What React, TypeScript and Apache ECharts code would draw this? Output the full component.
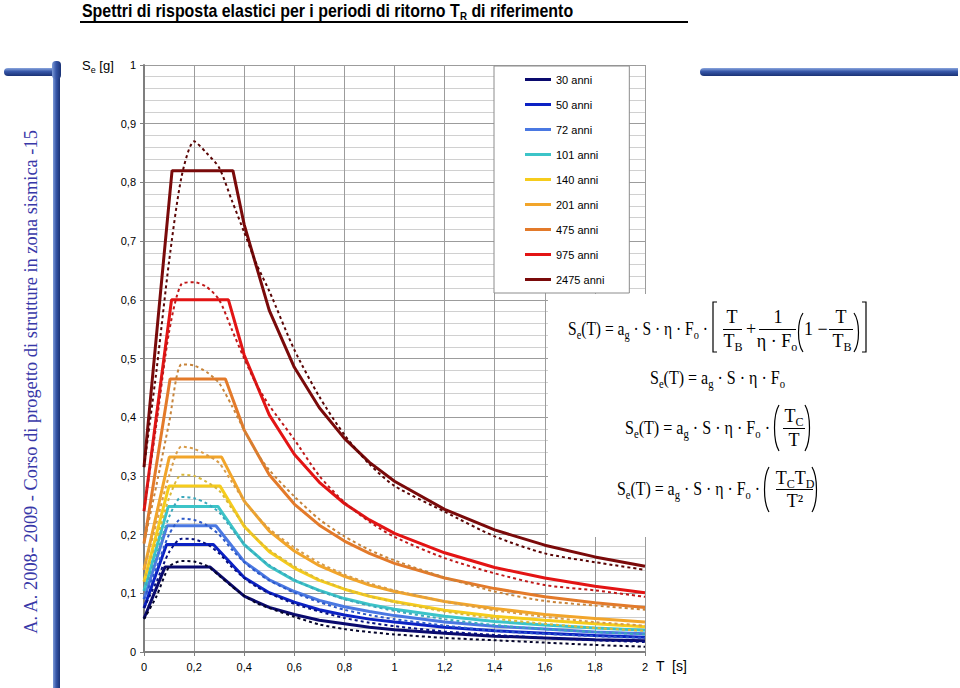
import React, { useEffect, useRef } from 'react';
import * as echarts from 'echarts';

// ---------------- data ----------------
const PERIODS = ['30 anni', '50 anni', '72 anni', '101 anni', '140 anni', '201 anni', '475 anni', '975 anni', '2475 anni'];
const COLORS = ['#0a0a6e', '#0c22c4', '#4a78e2', '#3cc4c8', '#f6cc1c', '#f2a52a', '#e37a2a', '#e31414', '#7a0a0a'];
const DOT_COLORS = ['#05052a', '#061080', '#2c58c8', '#3aa8bc', '#d9b83a', '#d89c48', '#c8843a', '#c01818', '#5a0505'];

const X_TICK_LABELS = ['0', '0,2', '0,4', '0,6', '0,8', '1', '1,2', '1,4', '1,6', '1,8', '2'];
const Y_TICK_LABELS = ['0', '0,1', '0,2', '0,3', '0,4', '0,5', '0,6', '0,7', '0,8', '0,9', '1'];

// simplified (solid) spectra
const S0 = [0.057, 0.075, 0.09, 0.104, 0.12, 0.14, 0.185, 0.24, 0.315];
const TB = [0.084, 0.09, 0.092, 0.097, 0.1, 0.101, 0.104, 0.11, 0.112];
const TC = [0.263, 0.277, 0.287, 0.295, 0.303, 0.31, 0.325, 0.337, 0.355];
const PLATEAU = [0.145, 0.183, 0.215, 0.248, 0.283, 0.332, 0.465, 0.6, 0.82];
const DECAY_T = [0.4, 0.5, 0.6, 0.7, 0.8, 0.9, 1.0, 1.2, 1.4, 1.6, 1.8, 2.0];
const DECAY_30 = [0.095, 0.076, 0.064, 0.054, 0.048, 0.042, 0.038, 0.032, 0.027, 0.024, 0.021, 0.019];
const DECAY_50 = [0.127, 0.101, 0.085, 0.072, 0.063, 0.056, 0.051, 0.042, 0.036, 0.032, 0.028, 0.025];
const DECAY_72 = [0.154, 0.123, 0.103, 0.088, 0.077, 0.069, 0.062, 0.051, 0.044, 0.039, 0.034, 0.031];
const DECAY_101 = [0.183, 0.146, 0.122, 0.105, 0.091, 0.081, 0.073, 0.061, 0.052, 0.046, 0.041, 0.037];
const DECAY_140 = [0.214, 0.171, 0.143, 0.122, 0.107, 0.095, 0.086, 0.071, 0.061, 0.054, 0.048, 0.043];
const DECAY_201 = [0.257, 0.206, 0.172, 0.147, 0.129, 0.114, 0.103, 0.086, 0.074, 0.064, 0.057, 0.051];
const DECAY_475 = [0.378, 0.302, 0.252, 0.216, 0.189, 0.168, 0.151, 0.126, 0.108, 0.094, 0.084, 0.076];
const DECAY_975 = [0.506, 0.404, 0.337, 0.289, 0.253, 0.225, 0.202, 0.169, 0.144, 0.126, 0.112, 0.101];
const DECAY_2475 = [0.728, 0.582, 0.485, 0.416, 0.364, 0.323, 0.291, 0.243, 0.208, 0.182, 0.162, 0.146];

// site spectra (dotted)
const DOT_T = [0, 0.05, 0.1, 0.15, 0.2, 0.25, 0.3, 0.35, 0.4, 0.45, 0.5, 0.6, 0.7, 0.8, 0.9, 1.0, 1.2, 1.4, 1.6, 1.8, 2.0];
const DOT_30 = [0.056, 0.095, 0.145, 0.155, 0.154, 0.147, 0.13, 0.112, 0.096, 0.083, 0.075, 0.06, 0.047, 0.039, 0.034, 0.03, 0.024, 0.02, 0.016, 0.012, 0.009];
const DOT_50 = [0.075, 0.12, 0.17, 0.193, 0.192, 0.184, 0.168, 0.145, 0.126, 0.111, 0.1, 0.082, 0.069, 0.058, 0.05, 0.044, 0.035, 0.029, 0.024, 0.02, 0.017];
const DOT_72 = [0.09, 0.143, 0.2, 0.227, 0.225, 0.216, 0.2, 0.175, 0.153, 0.136, 0.122, 0.101, 0.085, 0.072, 0.063, 0.056, 0.045, 0.036, 0.031, 0.027, 0.024];
const DOT_101 = [0.104, 0.165, 0.23, 0.264, 0.262, 0.253, 0.238, 0.21, 0.184, 0.164, 0.148, 0.123, 0.104, 0.09, 0.079, 0.07, 0.056, 0.046, 0.039, 0.034, 0.03];
const DOT_140 = [0.12, 0.19, 0.262, 0.302, 0.3, 0.29, 0.275, 0.245, 0.216, 0.193, 0.174, 0.146, 0.124, 0.108, 0.095, 0.085, 0.069, 0.057, 0.048, 0.041, 0.036];
const DOT_201 = [0.14, 0.22, 0.3, 0.35, 0.346, 0.336, 0.322, 0.29, 0.258, 0.232, 0.21, 0.178, 0.152, 0.132, 0.117, 0.105, 0.086, 0.071, 0.06, 0.051, 0.045];
const DOT_475 = [0.185, 0.285, 0.39, 0.49, 0.488, 0.477, 0.458, 0.42, 0.378, 0.34, 0.31, 0.265, 0.226, 0.197, 0.174, 0.156, 0.127, 0.103, 0.087, 0.079, 0.072];
const DOT_975 = [0.24, 0.39, 0.545, 0.627, 0.63, 0.622, 0.6, 0.55, 0.5, 0.455, 0.42, 0.362, 0.3, 0.255, 0.222, 0.196, 0.16, 0.134, 0.114, 0.105, 0.094];
const DOT_2475 = [0.315, 0.48, 0.665, 0.81, 0.87, 0.85, 0.825, 0.77, 0.715, 0.66, 0.615, 0.515, 0.435, 0.37, 0.32, 0.283, 0.239, 0.197, 0.168, 0.153, 0.14];

const DECAYS = [DECAY_30, DECAY_50, DECAY_72, DECAY_101, DECAY_140, DECAY_201, DECAY_475, DECAY_975, DECAY_2475];
const DOTS = [DOT_30, DOT_50, DOT_72, DOT_101, DOT_140, DOT_201, DOT_475, DOT_975, DOT_2475];

// ---------------- helpers ----------------
const SANS = '"Liberation Sans", Arial, sans-serif';
const SERIF = '"Liberation Serif", "Times New Roman", serif';
const F_N = 18;
const F_S = 12;

type Part = [string, string];

let ctx: CanvasRenderingContext2D | null = null;
function measure(items: Array<[string, string]>): number {
  if (!ctx) ctx = document.createElement('canvas').getContext('2d');
  let w = 0;
  for (const [t, font] of items) {
    ctx!.font = font;
    w += ctx!.measureText(t).width;
  }
  return w;
}

const richStr = (parts: Part[]) => parts.map(([t, k]) => `{${k}|${t}}`).join('');

const FRICH = {
  n: { fontSize: F_N, fontFamily: SERIF, lineHeight: 24, fill: '#000' },
  s: { fontSize: F_S, fontFamily: SERIF, lineHeight: 12, verticalAlign: 'bottom', fill: '#000' },
};

function fText(parts: Part[], x: number, y: number, align = 'left', targetW?: number) {
  const el: any = {
    type: 'text', x, y, z: 60, silent: true,
    style: {
      text: richStr(parts), rich: FRICH, fontSize: F_N, fontFamily: SERIF, fill: '#000',
      align, textAlign: align, verticalAlign: 'middle', textVerticalAlign: 'middle',
    },
  };
  if (targetW) {
    const w = measure(parts.map(([t, k]) => [t, `${k === 'n' ? F_N : F_S}px ${SERIF}`] as [string, string]));
    if (w > 0) el.scaleX = targetW / w;
  }
  return el;
}
function hline(x1: number, x2: number, y: number) {
  return { type: 'line', z: 60, silent: true, shape: { x1, y1: y, x2, y2: y }, style: { stroke: '#000', lineWidth: 1 } };
}
function paren(x: number, top: number, bottom: number, left: boolean) {
  const h = bottom - top;
  const outer = left ? x : x + 6;
  const inner = left ? x + 6 : x;
  return {
    type: 'bezierCurve', z: 60, silent: true,
    shape: { x1: inner, y1: top, cpx1: outer, cpy1: top + h * 0.22, cpx2: outer, cpy2: bottom - h * 0.22, x2: inner, y2: bottom },
    style: { stroke: '#000', lineWidth: 1.2, fill: null },
  };
}
function bracket(x: number, top: number, bottom: number, left: boolean) {
  const d = left ? 4 : -4;
  return {
    type: 'polyline', z: 60, silent: true,
    shape: { points: [[x + d, top], [x, top], [x, bottom], [x + d, bottom]] },
    style: { stroke: '#000', lineWidth: 1.2, fill: null },
  };
}

const MAIN: Part[] = [['S', 'n'], ['e', 's'], ['(T) = a', 'n'], ['g', 's'], [' · S · η · F', 'n'], ['o', 's']];
const MAIN_DOT: Part[] = [...MAIN, [' ·', 'n']];
const T_: Part[] = [['T', 'n']];
const TB_: Part[] = [['T', 'n'], ['B', 's']];

function buildGraphic() {
  const els: any[] = [];
  const blueV = { type: 'linear', x: 0, y: 0, x2: 1, y2: 0, colorStops: [{ offset: 0, color: '#7d9bd8' }, { offset: 0.45, color: '#3656a8' }, { offset: 1, color: '#1a3275' }] };
  const blueH = { type: 'linear', x: 0, y: 0, x2: 0, y2: 1, colorStops: [{ offset: 0, color: '#8aa6de' }, { offset: 0.45, color: '#3656a8' }, { offset: 1, color: '#1a3275' }] };
  els.push({ type: 'rect', z: 5, silent: true, shape: { x: 53, y: 64, width: 7, height: 624 }, style: { fill: blueV } });
  els.push({ type: 'rect', z: 5, silent: true, shape: { x: 4, y: 68, width: 54, height: 8, r: [4, 0, 0, 4] }, style: { fill: blueH } });
  els.push({ type: 'rect', z: 6, silent: true, shape: { x: 52, y: 61, width: 9, height: 18, r: 4 }, style: { fill: blueV } });
  els.push({ type: 'rect', z: 5, silent: true, shape: { x: 700, y: 68, width: 258, height: 8, r: [4, 0, 0, 4] }, style: { fill: blueH } });

  // vertical footer text
  const vt = 'A. A. 2008- 2009 - Corso di progetto di strutture in zona sismica -15';
  const vw = measure([[vt, `18px ${SERIF}`]]);
  const vSize = vw > 0 ? (18 * 505) / vw : 18;
  els.push({
    type: 'text', x: 31, y: 382, rotation: Math.PI / 2, z: 5, silent: true,
    style: { text: vt, fontSize: vSize, fontFamily: SERIF, fill: '#3838a8', align: 'center', textAlign: 'center', verticalAlign: 'middle', textVerticalAlign: 'middle' },
  });

  // title
  const tParts: Part[] = [['Spettri di risposta elastici per i periodi di ritorno T', 't'], ['R', 's'], [' di riferimento', 't']];
  const tw = measure(tParts.map(([t, k]) => [t, `bold ${k === 't' ? 18 : 11}px ${SANS}`] as [string, string]));
  els.push({
    type: 'text', x: 82, y: 11, z: 5, silent: true, scaleX: tw > 0 ? 491 / tw : 1,
    style: {
      text: richStr(tParts), fontSize: 18, fontWeight: 'bold', fontFamily: SANS, fill: '#000',
      rich: {
        t: { fontSize: 18, fontWeight: 'bold', fontFamily: SANS, lineHeight: 22, fill: '#000' },
        s: { fontSize: 11, fontWeight: 'bold', fontFamily: SANS, lineHeight: 10, verticalAlign: 'bottom', fill: '#000' },
      },
      align: 'left', textAlign: 'left', verticalAlign: 'middle', textVerticalAlign: 'middle',
    },
  });
  els.push({ type: 'line', z: 5, silent: true, shape: { x1: 80, y1: 22, x2: 688, y2: 22 }, style: { stroke: '#000', lineWidth: 2 } });

  // axis names
  els.push({
    type: 'text', x: 82, y: 65, z: 5, silent: true,
    style: {
      text: '{a|S}{b|e}{a| [g]}', fontSize: 13, fontFamily: SANS, fill: '#000',
      rich: {
        a: { fontSize: 13, fontFamily: SANS, lineHeight: 18, fill: '#000' },
        b: { fontSize: 9, fontFamily: SANS, lineHeight: 9, verticalAlign: 'bottom', fill: '#000' },
      },
      align: 'left', textAlign: 'left', verticalAlign: 'middle', textVerticalAlign: 'middle',
    },
  });
  els.push({
    type: 'text', x: 656, y: 666, z: 5, silent: true,
    style: { text: 'T  [s]', fontSize: 14, fontFamily: SANS, fill: '#000', align: 'left', textAlign: 'left', verticalAlign: 'middle', textVerticalAlign: 'middle' },
  });

  // white box for the formulas
  els.push({ type: 'rect', z: 50, silent: true, shape: { x: 548, y: 294, width: 340, height: 243 }, style: { fill: '#fff' } });

  // formula 1
  els.push(fText(MAIN_DOT, 568, 329, 'left', 140));
  els.push(bracket(713, 302, 352, true));
  els.push(fText(T_, 732, 317, 'center'), hline(723, 742, 329.5), fText(TB_, 733, 341, 'center'));
  els.push(fText([['+', 'n']], 751, 329, 'center'));
  els.push(fText([['1', 'n']], 778, 317, 'center'), hline(759, 796, 329.5), fText([['η · F', 'n'], ['o', 's']], 777, 341, 'center'));
  els.push(paren(797, 313, 352, true));
  els.push(fText([['1 −', 'n']], 804, 329, 'left'));
  els.push(fText(T_, 841, 317, 'center'), hline(829, 853, 329.5), fText(TB_, 842, 341, 'center'));
  els.push(paren(854, 313, 352, false));
  els.push(bracket(866, 302, 352, false));

  // formula 2
  els.push(fText(MAIN, 650, 378, 'left', 135));

  // formula 3
  els.push(fText(MAIN_DOT, 625, 428, 'left', 145));
  els.push(paren(773, 405, 451, true));
  els.push(fText([['T', 'n'], ['C', 's']], 794, 416, 'center'), hline(783, 805, 428.5), fText(T_, 794, 440, 'center'));
  els.push(paren(805, 405, 451, false));

  // formula 4
  els.push(fText(MAIN_DOT, 617, 489, 'left', 143));
  els.push(paren(763, 467, 512, true));
  els.push(fText([['T', 'n'], ['C', 's'], ['T', 'n'], ['D', 's']], 795, 478, 'center'), hline(776, 813, 489.5), fText([['T²', 'n']], 795, 501, 'center'));
  els.push(paren(812, 467, 512, false));

  return els;
}

function buildOption(): any {
  const solid = PERIODS.map((name, i) => ({
    type: 'line', name, silent: true, symbol: 'none', showSymbol: false, z: 3,
    color: COLORS[i],
    lineStyle: { color: COLORS[i], width: 3 },
    data: [[0, S0[i]], [TB[i], PLATEAU[i]], [TC[i], PLATEAU[i]], ...DECAY_T.map((t, j) => [t, DECAYS[i][j]])],
  }));
  const dotted = PERIODS.map((name, i) => ({
    type: 'line', name: `${name} (sito)`, silent: true, symbol: 'none', showSymbol: false, z: 4,
    smooth: 0.25,
    color: DOT_COLORS[i],
    lineStyle: { color: DOT_COLORS[i], width: 2, type: [3, 3] },
    data: DOT_T.map((t, j) => [t, DOTS[i][j]]),
  }));

  return {
    animation: false,
    backgroundColor: '#fff',
    grid: { left: 144, top: 65, width: 501, height: 587, containLabel: false, outerBoundsMode: 'none' },
    legend: {
      data: PERIODS,
      orient: 'vertical',
      left: 494, top: 66,
      itemWidth: 26, itemHeight: 14, itemGap: 14,
      icon: 'path://M0,0L26,0L26,3L0,3Z',
      itemStyle: { borderWidth: 0 },
      backgroundColor: '#fff', borderColor: '#8c8c8c', borderWidth: 1, borderRadius: 0,
      padding: [8, 25, 8, 31],
      selectedMode: false,
      textStyle: { fontSize: 11, fontFamily: SANS, color: '#000' },
      z: 10,
    },
    xAxis: {
      type: 'value', min: 0, max: 2, interval: 0.2,
      axisLine: { show: true, onZero: false, lineStyle: { color: '#7f7f7f', width: 2 } },
      axisTick: { show: true, length: 4, lineStyle: { color: '#7f7f7f' } },
      axisLabel: { color: '#000', fontSize: 11, fontFamily: SANS, margin: 9, formatter: (v: number) => X_TICK_LABELS[Math.round(v / 0.2)] ?? '' },
      splitLine: { show: true, lineStyle: { color: '#9c9c9c', width: 1 } },
    },
    yAxis: {
      type: 'value', min: 0, max: 1, interval: 0.1,
      axisLine: { show: true, lineStyle: { color: '#7f7f7f', width: 2 } },
      axisTick: { show: true, length: 4, lineStyle: { color: '#7f7f7f' } },
      minorTick: { show: false, splitNumber: 5 },
      minorSplitLine: { show: true, lineStyle: { color: '#d0d0d0', width: 1 } },
      axisLabel: { color: '#000', fontSize: 11, fontFamily: SANS, margin: 8, formatter: (v: number) => Y_TICK_LABELS[Math.round(v * 10)] ?? '' },
      splitLine: { show: true, lineStyle: { color: '#9c9c9c', width: 1 } },
    },
    series: [...solid, ...dotted],
    graphic: { elements: buildGraphic() },
  };
}

export default function App() {
  const ref = useRef<HTMLDivElement>(null);
  useEffect(() => {
    const el = ref.current;
    if (!el) return;
    const chart = echarts.init(el, null, { renderer: 'svg' });
    chart.setOption(buildOption());
    return () => chart.dispose();
  }, []);
  return <div ref={ref} style={{ position: 'fixed', left: 0, top: 0, width: 960, height: 688, background: '#fff' }} />;
}
